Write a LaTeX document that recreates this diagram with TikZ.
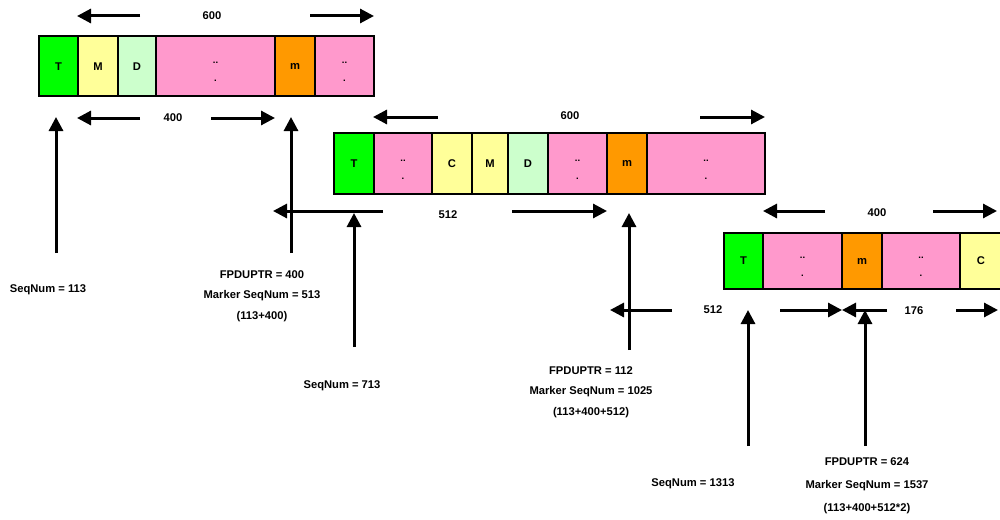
\documentclass[tikz,border=0pt]{standalone}
\usepackage{fontspec}
\setmainfont{Liberation Sans}
\usetikzlibrary{arrows.meta,positioning}

\definecolor{hdrgreen}{HTML}{00FF00}
\definecolor{softyellow}{HTML}{FFFF99}
\definecolor{softgreen}{HTML}{CCFFCC}
\definecolor{datapink}{HTML}{FF99CC}
\definecolor{mkorange}{HTML}{FF9900}

% filler marks inside a data cell
\newcommand{\filler}{\rule{0pt}{13pt}..\\.}

\begin{document}
\begin{tikzpicture}[x=1pt, y=-1pt,
  font=\fontsize{11.2}{13}\selectfont\bfseries,
  cell/.style={draw, line width=2.2pt, inner sep=0pt, outer sep=0pt,
               minimum height=60pt},
  hdr/.style={cell, fill=hdrgreen},
  ctl/.style={cell, fill=softyellow},
  ddp/.style={cell, fill=softgreen},
  mrk/.style={cell, fill=mkorange},
  dat/.style={cell, fill=datapink, align=center,
              font=\fontsize{9.5}{18}\selectfont\bfseries},
  dim/.style={-{Triangle[length=14pt,width=14pt]}, line width=3pt},
  lbl/.style={align=center}]
\useasboundingbox (0,0) rectangle (1000,519);

% first segment
\node[hdr, minimum width=39pt, anchor=west] (p1t) at (39,66.3) {T};
\node[ctl, minimum width=40pt, right=0pt of p1t] (p1m) {M};
\node[ddp, minimum width=38pt, right=0pt of p1m] (p1d) {D};
\node[dat, minimum width=119pt, right=0pt of p1d] (p1x) {\filler};
\node[mrk, minimum width=40pt, right=0pt of p1x] (p1k) {m};
\node[dat, minimum width=59pt, right=0pt of p1k] (p1y) {\filler};

% second segment
\node[hdr, minimum width=40pt, minimum height=61pt, anchor=west] (p2t) at (334,163.5) {T};
\node[dat, minimum width=58pt, minimum height=61pt, right=0pt of p2t] (p2x) {\filler};
\node[ctl, minimum width=40pt, minimum height=61pt, right=0pt of p2x] (p2c) {C};
\node[ctl, minimum width=36pt, minimum height=61pt, right=0pt of p2c] (p2m) {M};
\node[ddp, minimum width=40pt, minimum height=61pt, right=0pt of p2m] (p2d) {D};
\node[dat, minimum width=59pt, minimum height=61pt, right=0pt of p2d] (p2y) {\filler};
\node[mrk, minimum width=40pt, minimum height=61pt, right=0pt of p2y] (p2k) {m};
\node[dat, minimum width=118pt, minimum height=61pt, right=0pt of p2k] (p2z) {\filler};

% third segment
\node[hdr, minimum width=39pt, minimum height=56pt, anchor=west] (p3t) at (724,261) {T};
\node[dat, minimum width=79pt, minimum height=56pt, right=0pt of p3t] (p3x) {\filler};
\node[mrk, minimum width=40pt, minimum height=56pt, right=0pt of p3x] (p3k) {m};
\node[dat, minimum width=78pt, minimum height=56pt, right=0pt of p3k] (p3y) {\filler};
\node[ctl, minimum width=42pt, minimum height=56pt, right=0pt of p3y] (p3c) {C};

% lengths
\node (len600a) at (212,16) {600};
\node (len400a) at (173,118) {400};
\node (len600b) at (570,116) {600};
\node (len512a) at (448,215) {512};
\node (len400b) at (877,213) {400};
\node (len512b) at (713,310) {512};
\node (len176) at (914,311) {176};

\coordinate (q1) at (140,16);   \coordinate (q2) at (310,16);
\coordinate (q3) at (140,118);  \coordinate (q4) at (211,118);
\coordinate (q5) at (438,117);  \coordinate (q6) at (700,117);
\coordinate (q7) at (383,211);  \coordinate (q8) at (512,211);
\coordinate (q9) at (825,211);  \coordinate (q10) at (933,211);
\coordinate (q11) at (672,310); \coordinate (q12) at (780,310);
\coordinate (q13) at (887,310); \coordinate (q14) at (956,310);

\draw[dim] (q1) -- (77,16);
\draw[dim] (q2) -- (p1y.east |- q2);
\draw[dim] (q3) -- (77,118);
\draw[dim] (q4) -- (p1k.west |- q4);
\draw[dim] (q5) -- (373,117);
\draw[dim] (q6) -- (p2z.east |- q6);
\draw[dim] (q7) -- (273,211);
\draw[dim] (q8) -- (p2k.west |- q8);
\draw[dim] (q9) -- (p3t.east |- q9);
\draw[dim] (q10) -- (997,211);
\draw[dim] (q11) -- (610,310);
\draw[dim] (q12) -- (p3k.west |- q12);
\draw[dim] (q13) -- (p3k.west |- q13);
\draw[dim] (q14) -- (998,310);

% pointers
\coordinate (s1) at (56,253);   \coordinate (s1tip) at (56,117);
\coordinate (f1) at (291,253);  \coordinate (f1tip) at (291,117);
\coordinate (s2) at (354,347);  \coordinate (s2tip) at (354,213);
\coordinate (f2) at (629,350);  \coordinate (f2tip) at (629,213);
\coordinate (s3) at (748,446);  \coordinate (s3tip) at (748,310);
\coordinate (f3) at (865,446);  \coordinate (f3tip) at (865,310);
\draw[dim] (s1) -- (s1tip);
\draw[dim] (f1) -- (f1tip);
\draw[dim] (s2) -- (s2tip);
\draw[dim] (f2) -- (f2tip);
\draw[dim] (s3) -- (s3tip);
\draw[dim] (f3) -- (f3tip);

% values
\node (seq1) at (48,290) {SeqNum = 113};
\node[lbl, font=\fontsize{11.2}{20.5}\selectfont\bfseries] (mk1) at (262,296)
  {FPDUPTR = 400\\Marker SeqNum = 513\\(113+400)};
\node (seq2) at (342,386) {SeqNum = 713};
\node[lbl, font=\fontsize{11.2}{20.5}\selectfont\bfseries] (mk2) at (591,392)
  {FPDUPTR = 112\\Marker SeqNum = 1025\\(113+400+512)};
\node (seq3) at (693,484) {SeqNum = 1313};
\node[lbl, font=\fontsize{11.2}{23}\selectfont\bfseries] (mk3) at (867,486)
  {FPDUPTR = 624\\Marker SeqNum = 1537\\(113+400+512*2)};
\end{tikzpicture}
\end{document}
